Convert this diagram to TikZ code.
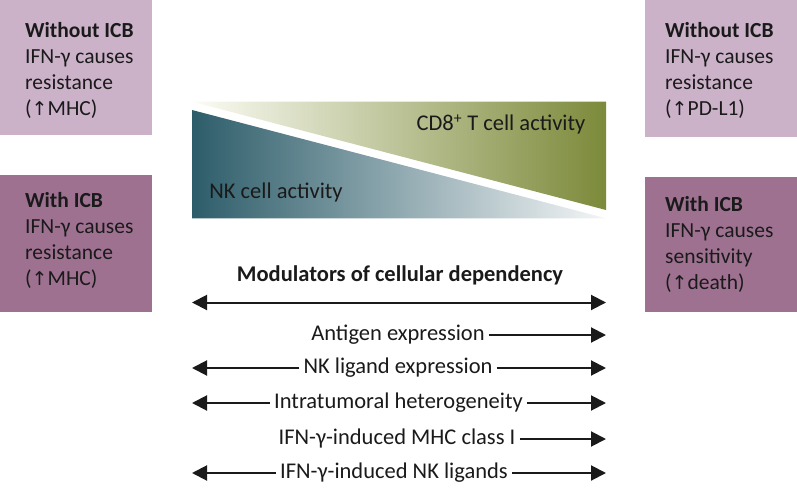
\documentclass[tikz,border=0pt]{standalone}
\usepackage{fontspec}
\setmainfont{Carlito}
\usetikzlibrary{arrows.meta}
\definecolor{boxlight}{RGB}{203,178,201}
\definecolor{boxdark}{RGB}{158,113,145}
\definecolor{tealdark}{RGB}{45,93,106}
\definecolor{teallight}{RGB}{244,246,247}
\definecolor{olivedark}{RGB}{124,138,58}
\definecolor{olivelight}{RGB}{252,252,245}
\definecolor{ink}{RGB}{26,26,26}
\newfontfamily\arrowfont{DejaVu Sans}
\begin{document}
\begin{tikzpicture}[x=1pt,y=-1pt,
  boxtext/.style={anchor=north west,inner sep=0pt,align=left,text=ink,
    font=\fontsize{21.5}{26}\selectfont},
  lbl/.style={anchor=base,inner sep=4pt,text=ink,font=\fontsize{22.5}{27}\selectfont},
  arr/.style={draw=ink,line width=2pt,-{Triangle[length=15pt,width=15pt]}},
  darr/.style={draw=ink,line width=2pt,{Triangle[length=15pt,width=15pt]}-{Triangle[length=15pt,width=15pt]}}]
\useasboundingbox (0,0) rectangle (797,489);
% boxes
\fill[boxlight] (0,0) rectangle (152,135);
\fill[boxdark] (0,175) rectangle (152,312);
\fill[boxlight] (645,0) rectangle (797,137);
\fill[boxdark] (645,177) rectangle (797,312);
\newcommand{\upar}{{\arrowfont\fontsize{19}{26}\selectfont ↑}}
\node[boxtext] (tl) at (25,22) {\textbf{Without ICB}\\IFN-γ causes\\resistance\\(\upar MHC)};
\node[boxtext] (bl) at (25,192) {\textbf{With ICB}\\IFN-γ causes\\resistance\\(\upar MHC)};
\node[boxtext] (tr) at (665,22) {\textbf{Without ICB}\\IFN-γ causes\\resistance\\(\upar PD-L1)};
\node[boxtext] (br) at (665,196) {\textbf{With ICB}\\IFN-γ causes\\sensitivity\\(\upar death)};
% triangles
\shade[left color=tealdark,right color=teallight] (192,110) -- (192,218.3) -- (606,218.3) -- cycle;
\shade[left color=olivelight,right color=olivedark] (192,101.7) -- (606,101.7) -- (606,210) -- cycle;
\node[lbl] (cd8) at (501,131) {CD8\textsuperscript{+} T cell activity};
\node[lbl] (nk) at (276,198) {NK cell activity};
% modulators
\node[lbl,font=\fontsize{22.5}{27}\selectfont\bfseries] (title) at (400,281) {Modulators of cellular dependency};
\coordinate (L0) at (192,302.5); \coordinate (R0) at (606,302.5);
\draw[darr] (L0) -- (R0);
\coordinate (R1) at (606,335);
\node[lbl] (t1) at (398,340.5) {Antigen expression};
\draw[arr] (t1.east |- R1) -- (R1);
\coordinate (L2) at (192,368); \coordinate (R2) at (606,368);
\node[lbl] (t2) at (398,373.5) {NK ligand expression};
\draw[arr] (t2.east |- R2) -- (R2);
\draw[arr] (t2.west |- L2) -- (L2);
\coordinate (L3) at (192,403); \coordinate (R3) at (606,403);
\node[lbl] (t3) at (398.5,408.5) {Intratumoral heterogeneity};
\draw[arr] (t3.east |- R3) -- (R3);
\draw[arr] (t3.west |- L3) -- (L3);
\coordinate (R4) at (606,439);
\node[lbl] (t4) at (397,444.5) {IFN-γ-induced MHC class I};
\draw[arr] (t4.east |- R4) -- (R4);
\coordinate (L5) at (192,473); \coordinate (R5) at (606,473);
\node[lbl] (t5) at (394,478.5) {IFN-γ-induced NK ligands};
\draw[arr] (t5.east |- R5) -- (R5);
\draw[arr] (t5.west |- L5) -- (L5);
\end{tikzpicture}
\end{document}
